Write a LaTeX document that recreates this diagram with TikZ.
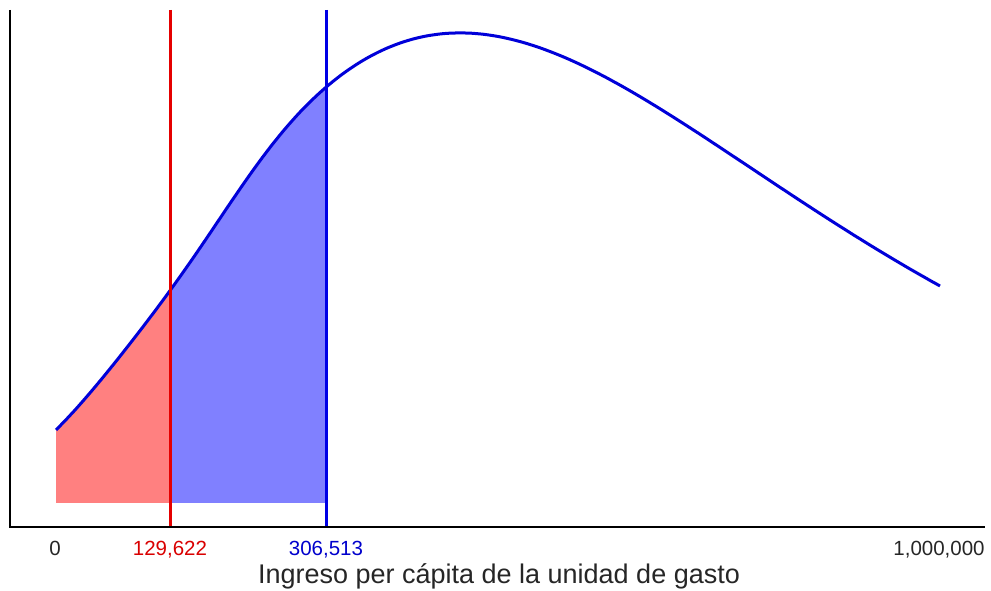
\documentclass[tikz,border=0pt]{standalone}
\usepackage{fontspec}
\setmainfont{Liberation Sans}
\begin{document}
\begin{tikzpicture}[x=1pt,y=-1pt,
  declare function={
    dens(\t)=503-470*exp(-(ln((\t+300)/760))^2/0.31)+12*exp(-min(((\t-195)/75)^2,9));
  },
  axisline/.style={line width=2.5pt,black},
  redline/.style={line width=3pt,red!90!black},
  blueline/.style={line width=3pt,blue!90!black},
  curveline/.style={line width=3pt,blue!85!black,line join=round},
  ticklbl/.style={font=\fontsize{20.5}{24}\selectfont,anchor=base,inner sep=0pt},
  titlelbl/.style={font=\fontsize{27}{31}\selectfont,anchor=base,inner sep=0pt,text=black!85}]
\useasboundingbox (0,0) rectangle (991,591);
% fills under the curve
\begin{scope}
  \clip plot[domain=56:940,samples=177,smooth] (\x,{dens(\x)}) -- (940,503) -- (56,503) -- cycle;
  \fill[red!50] (56,503) rectangle (170,0);
  \fill[blue!50] (170,503) rectangle (326,0);
\end{scope}
% coordinates
\coordinate (ytop) at (10,10);
\coordinate (origin) at (10,527);
\coordinate (xend) at (985,527);
\coordinate (rtop) at (170,10);
\coordinate (rbot) at (170,527);
\coordinate (btop) at (326,10);
\coordinate (bbot) at (326,527);
% curve
\draw[curveline] plot[domain=56:940,samples=177,smooth] (\x,{dens(\x)});
% vertical lines
\draw[redline] (rtop) -- (rbot);
\draw[blueline] (btop) -- (bbot);
% axes
\draw[axisline] (ytop) -- (origin) -- (xend);
% labels
\node[ticklbl,text=black!85] (l0) at (55,555) {0};
\node[ticklbl,text=red!85!black] (l1) at (170,555) {129,622};
\node[ticklbl,text=blue!80!black] (l2) at (326,555) {306,513};
\node[ticklbl,text=black!85] (l3) at (939,555) {1,000,000};
\node[titlelbl] (title) at (499,583) {Ingreso per cápita de la unidad de gasto};
\end{tikzpicture}
\end{document}
